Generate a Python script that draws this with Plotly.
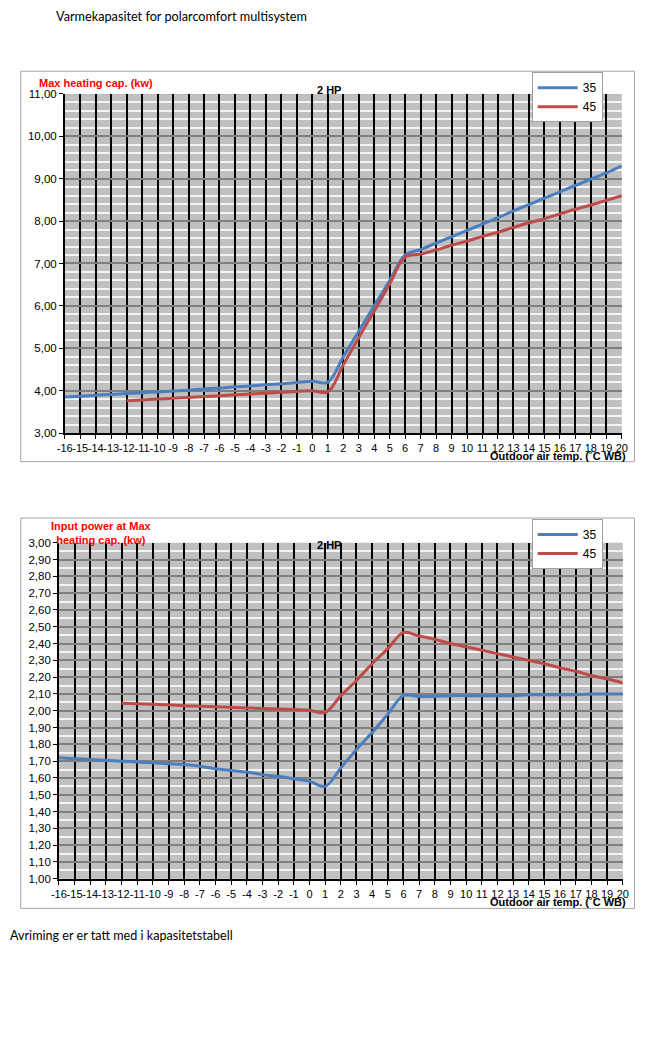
import plotly.graph_objects as go

# ---------------- data ----------------
temps = list(range(-16, 21))
temp_labels = [str(t) for t in temps]

cap_35 = [3.85, 3.87, 3.89, 3.91, 3.93, 3.95, 3.97, 3.99, 4.01, 4.04, 4.06, 4.09,
          4.11, 4.14, 4.16, 4.19, 4.22,
          4.20, 4.80, 5.40, 6.00, 6.60, 7.20,
          7.33, 7.48, 7.63, 7.78, 7.93, 8.08, 8.24, 8.39, 8.54, 8.69, 8.84, 8.99, 9.14, 9.30]
cap_45 = [None, None, None, None,
          3.76, 3.78, 3.80, 3.82, 3.84, 3.86, 3.88, 3.90, 3.92, 3.94, 3.96, 3.98, 4.00,
          3.97, 4.61, 5.25, 5.88, 6.52, 7.15,
          7.22, 7.32, 7.43, 7.53, 7.64, 7.74, 7.85, 7.96, 8.06, 8.17, 8.28, 8.38, 8.49, 8.60]

pow_35 = [1.72, 1.715, 1.71, 1.705, 1.70, 1.695, 1.69, 1.685, 1.68, 1.67, 1.655, 1.645,
          1.635, 1.62, 1.61, 1.595, 1.58,
          1.55, 1.66, 1.77, 1.87, 1.98, 2.09,
          2.085, 2.085, 2.09, 2.09, 2.09, 2.09, 2.09, 2.095, 2.095, 2.095, 2.095, 2.10, 2.10, 2.10]
pow_45 = [None, None, None, None,
          2.045, 2.042, 2.038, 2.035, 2.03, 2.027, 2.024, 2.02, 2.017, 2.014, 2.01, 2.007, 2.003,
          1.99, 2.09, 2.18, 2.28, 2.37, 2.465,
          2.445, 2.425, 2.40, 2.38, 2.36, 2.34, 2.32, 2.30, 2.28, 2.255, 2.235, 2.21, 2.19, 2.165]

series_names = ["35", "45"]

cap_ticks = [3, 4, 5, 6, 7, 8, 9, 10, 11]
cap_tick_labels = ["3,00", "4,00", "5,00", "6,00", "7,00", "8,00", "9,00", "10,00", "11,00"]

pow_ticks = [1.0, 1.1, 1.2, 1.3, 1.4, 1.5, 1.6, 1.7, 1.8, 1.9, 2.0,
             2.1, 2.2, 2.3, 2.4, 2.5, 2.6, 2.7, 2.8, 2.9, 3.0]
pow_tick_labels = ["1,00", "1,10", "1,20", "1,30", "1,40", "1,50", "1,60", "1,70", "1,80", "1,90", "2,00",
                   "2,10", "2,20", "2,30", "2,40", "2,50", "2,60", "2,70", "2,80", "2,90", "3,00"]

# ---------------- styling ----------------
W, H = 664, 1038
BLUE = "#4A7EBF"
RED = "#BE4B48"
FONT = "Liberation Sans"
SMOOTH = 1.0


def px_x(p):
    return p / W


def px_y(p):
    return 1 - p / H


fig = go.Figure()

fig.add_trace(go.Scatter(x=temps, y=cap_35, name=series_names[0], mode="lines",
                         line=dict(color=BLUE, width=3, shape="spline", smoothing=SMOOTH),
                         xaxis="x", yaxis="y", legend="legend"))
fig.add_trace(go.Scatter(x=temps, y=cap_45, name=series_names[1], mode="lines",
                         line=dict(color=RED, width=3, shape="spline", smoothing=SMOOTH),
                         xaxis="x", yaxis="y", legend="legend"))
fig.add_trace(go.Scatter(x=temps, y=pow_35, name=series_names[0], mode="lines",
                         line=dict(color=BLUE, width=3, shape="spline", smoothing=SMOOTH),
                         xaxis="x2", yaxis="y2", legend="legend2"))
fig.add_trace(go.Scatter(x=temps, y=pow_45, name=series_names[1], mode="lines",
                         line=dict(color=RED, width=3, shape="spline", smoothing=SMOOTH),
                         xaxis="x2", yaxis="y2", legend="legend2"))

xcommon = dict(range=[-16, 20], tickmode="array", tickvals=temps, ticktext=temp_labels,
               showgrid=True, gridcolor="black", gridwidth=1.5, zeroline=False,
               showline=True, linecolor="black", linewidth=1.5,
               ticks="outside", ticklen=4, tickcolor="black",
               tickfont=dict(family=FONT, size=11, color="black"), tickangle=0, fixedrange=True)
ycommon = dict(showgrid=True, gridcolor="#7F7F7F", gridwidth=1.5, zeroline=False,
               showline=True, linecolor="black", linewidth=1.5,
               ticks="outside", ticklen=4, tickcolor="black",
               tickfont=dict(family=FONT, size=11.5, color="black"), fixedrange=True)

fig.update_layout(
    width=W, height=H,
    margin=dict(l=0, r=0, t=0, b=0),
    paper_bgcolor="white",
    plot_bgcolor="#C0C0C0",
    font=dict(family=FONT, color="black"),
    xaxis=dict(domain=[px_x(58), px_x(627)], anchor="y", **xcommon),
    yaxis=dict(domain=[px_y(432), px_y(89)], anchor="x", range=[3, 11],
               tickmode="array", tickvals=cap_ticks, ticktext=cap_tick_labels,
               minor=dict(tickmode="linear", tick0=3, dtick=0.2, showgrid=True,
                          gridcolor="#F4F4F4", gridwidth=1.5, ticks=""),
               **ycommon),
    xaxis2=dict(domain=[px_x(52), px_x(628)], anchor="y2", **xcommon),
    yaxis2=dict(domain=[px_y(883), px_y(543)], anchor="x2", range=[1, 3],
                tickmode="array", tickvals=pow_ticks, ticktext=pow_tick_labels,
                minor=dict(tickmode="linear", tick0=1, dtick=0.05, showgrid=True,
                           gridcolor="#F4F4F4", gridwidth=1.5, ticks=""),
                **ycommon),
    legend=dict(x=px_x(535), y=px_y(67), xanchor="left", yanchor="top",
                bgcolor="white", bordercolor="#A0A0A0", borderwidth=1,
                font=dict(family=FONT, size=12), itemwidth=40, tracegroupgap=0),
    legend2=dict(x=px_x(535), y=px_y(519), xanchor="left", yanchor="top",
                 bgcolor="white", bordercolor="#A0A0A0", borderwidth=1,
                 font=dict(family=FONT, size=12), itemwidth=40, tracegroupgap=0),
    showlegend=True,
)

shapes = [
    dict(type="rect", xref="paper", yref="paper", x0=px_x(13), x1=px_x(640),
         y0=px_y(461), y1=px_y(66), line=dict(color="#A6A6A6", width=1), layer="below"),
    dict(type="rect", xref="paper", yref="paper", x0=px_x(13), x1=px_x(640),
         y0=px_y(913), y1=px_y(518), line=dict(color="#A6A6A6", width=1), layer="below"),
]
fig.update_layout(shapes=shapes)

ann = []
# page texts
ann.append(dict(text="Varmekapasitet for polarcomfort multisystem", x=px_x(47), y=px_y(10),
                xref="paper", yref="paper", xanchor="left", yanchor="middle", showarrow=False,
                font=dict(family="Lato", size=12.7, color="black")))
ann.append(dict(text="Avriming er er tatt med i kapasitetstabell", x=px_x(0), y=px_y(940),
                xref="paper", yref="paper", xanchor="left", yanchor="middle", showarrow=False,
                font=dict(family="Lato", size=12.6, color="black")))
# top chart
ann.append(dict(text="<b>Max heating cap. (kw)</b>", x=px_x(30), y=px_y(78),
                xref="paper", yref="paper", xanchor="left", yanchor="middle", showarrow=False,
                font=dict(family=FONT, size=11, color="#FF0000")))
ann.append(dict(text="<b>2 HP</b>", x=px_x(328), y=px_y(85),
                xref="paper", yref="paper", xanchor="center", yanchor="middle", showarrow=False,
                font=dict(family=FONT, size=11, color="black")))
ann.append(dict(text="<b>Outdoor air temp. (˚C WB)</b>", x=px_x(633), y=px_y(455),
                xref="paper", yref="paper", xanchor="right", yanchor="middle", showarrow=False,
                font=dict(family=FONT, size=11, color="black")))
# bottom chart
ann.append(dict(text="<b>Input power at Max<br>heating cap. (kw)</b>", x=px_x(96), y=px_y(533),
                xref="paper", yref="paper", xanchor="center", yanchor="middle", showarrow=False,
                font=dict(family=FONT, size=11, color="#FF0000")))
ann.append(dict(text="<b>2 HP</b>", x=px_x(328), y=px_y(545),
                xref="paper", yref="paper", xanchor="center", yanchor="middle", showarrow=False,
                font=dict(family=FONT, size=11, color="black")))
ann.append(dict(text="<b>Outdoor air temp. (˚C WB)</b>", x=px_x(633), y=px_y(906),
                xref="paper", yref="paper", xanchor="right", yanchor="middle", showarrow=False,
                font=dict(family=FONT, size=11, color="black")))
fig.update_layout(annotations=ann)

fig.write_html("out.html", post_script="document.body.style.margin='0';")
